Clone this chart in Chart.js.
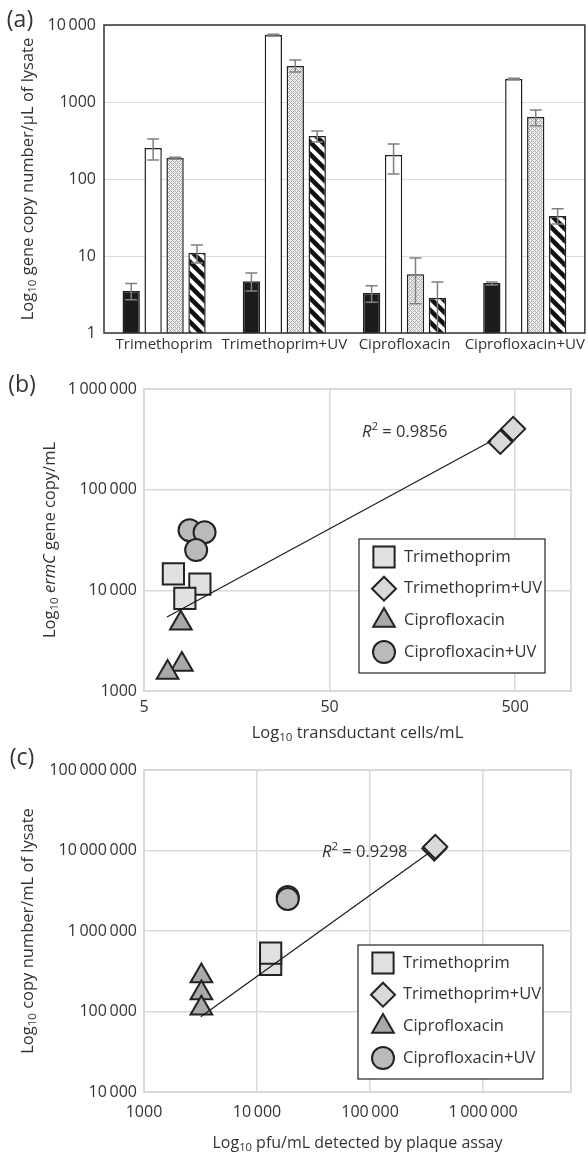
<!DOCTYPE html>
<html>
<head>
<meta charset="utf-8">
<script src="https://cdn.jsdelivr.net/npm/chart.js@4.4.1/dist/chart.umd.min.js"></script>
<style>
  body { margin: 0; background: #fff; }
  .panel { position: absolute; left: 0; width: 588px; }
</style>
</head>
<body>
<div class="panel" style="top:0;height:360px"><canvas id="chartA"></canvas></div>
<div class="panel" style="top:360px;height:385px"><canvas id="chartB"></canvas></div>
<div class="panel" style="top:745px;height:407px"><canvas id="chartC"></canvas></div>
<script>
// ---- panel (a) data ----
const categories = ['Trimethoprim', 'Trimethoprim+UV', 'Ciprofloxacin', 'Ciprofloxacin+UV'];
const seriesNames = ['solid', 'open', 'dotted', 'hatched'];
const blackVals = [3.5, 4.7, 3.3, 4.45];
const blackLo = [2.7, 3.5, 2.5, 4.2];
const blackHi = [4.4, 6.0, 4.1, 4.6];
const whiteVals = [252, 7400, 205, 1990];
const whiteLo = [177, 7200, 116, 1950];
const whiteHi = [330, 7600, 284, 2030];
const dotVals = [187, 2940, 5.8, 640];
const dotLo = [182, 2450, 2.4, 490];
const dotHi = [192, 3500, 9.4, 790];
const hatchVals = [11, 361, 2.85, 33];
const hatchLo = [8.1, 302, 1, 26];
const hatchHi = [13.9, 420, 4.6, 41];
const aYTicks = [1, 10, 100, 1000, 10000];

// ---- panel (b) data ----
const bTrimX = [7.2, 10.0, 8.3];
const bTrimY = [14600, 11500, 8300];
const bTrimUvX = [416, 488];
const bTrimUvY = [298000, 402000];
const bCiproX = [7.9, 8.0, 6.7];
const bCiproY = [4700, 1830, 1525];
const bCiproUvX = [8.8, 10.6, 9.55];
const bCiproUvY = [39500, 37800, 25100];
const bTrendX = [6.65, 372];
const bTrendY = [5440, 305000];
const bXTicks = [5, 50, 500];
const bYTicks = [1000, 10000, 100000, 1000000];

// ---- panel (c) data ----
const cTrimX = [13200, 13200];
const cTrimY = [384000, 530000];
const cTrimUvX = [370000, 378000];
const cTrimUvY = [10600000, 11100000];
const cCiproX = [3220, 3220, 3220];
const cCiproY = [276000, 170000, 110000];
const cCiproUvX = [18700, 18700];
const cCiproUvY = [2640000, 2500000];
const cTrendX = [3180, 331000];
const cTrendY = [86100, 9300000];
const cXTicks = [1000, 10000, 100000, 1000000];
const cYTicks = [10000, 100000, 1000000, 10000000, 100000000];

const markerStyles = ['rect', 'rectRot', 'triangle', 'circle'];
const markerRadii = [15, 12, 12.5, 11];
const markerFills = ['#e1e1e1', '#d9d9d9', '#a9a9a9', '#bababa'];

Chart.defaults.font.family = "'Open Sans', sans-serif";
Chart.defaults.font.size = 16;
Chart.defaults.color = '#333';
Chart.defaults.animation = false;
Chart.defaults.events = [];
Chart.defaults.plugins.legend.display = false;
Chart.defaults.plugins.tooltip.enabled = false;

function fmt(v) {
  if (v < 10000) return String(v);
  return String(v).replace(/\B(?=(\d{3})+(?!\d))/g, '\u2009');
}

function makeDots() {
  const c = document.createElement('canvas');
  c.width = 4; c.height = 4;
  const g = c.getContext('2d');
  g.fillStyle = '#efefef';
  g.fillRect(0, 0, 4, 4);
  g.fillStyle = '#ababab';
  for (let x = 0; x < 4; x++) {
    for (let y = 0; y < 4; y++) {
      if ((x + y) % 4 == 0 || (x - y + 4) % 4 == 0) g.fillRect(x, y, 1, 1);
    }
  }
  return g.createPattern(c, 'repeat');
}

function makeStripes() {
  const s = 12;
  const c = document.createElement('canvas');
  c.width = s; c.height = s;
  const g = c.getContext('2d');
  g.fillStyle = '#fff';
  g.fillRect(0, 0, s, s);
  g.strokeStyle = '#111';
  g.lineWidth = 4.5;
  for (let k = -1; k <= 1; k++) {
    g.beginPath();
    g.moveTo(k * s - 3, -3);
    g.lineTo(k * s + s + 3, s + 3);
    g.stroke();
  }
  return g.createPattern(c, 'repeat');
}

// text with subscript / superscript / italic runs
function fontFor(p, size) {
  const small = p[1] == 'sub' || p[1] == 'sup';
  return (p[1] == 'i' ? 'italic ' : '') + (small ? size * 0.7 : size) + "px 'Open Sans', sans-serif";
}
function drawRich(ctx, parts, x, y, size, align, rotate) {
  ctx.save();
  ctx.translate(x, y);
  if (rotate) ctx.rotate(-Math.PI / 2);
  const widths = parts.map(p => { ctx.font = fontFor(p, size); return ctx.measureText(p[0]).width; });
  const total = widths.reduce((a, b) => a + b, 0);
  let cx = align == 'center' ? -total / 2 : (align == 'right' ? -total : 0);
  ctx.textBaseline = 'middle';
  ctx.textAlign = 'left';
  ctx.fillStyle = '#333';
  parts.forEach((p, i) => {
    ctx.font = fontFor(p, size);
    const dy = p[1] == 'sub' ? size * 0.3 : (p[1] == 'sup' ? -size * 0.35 : 0);
    ctx.fillText(p[0], cx, dy);
    cx += widths[i];
  });
  ctx.restore();
}

function framePlugin(color, width) {
  return {
    id: 'frame',
    afterDraw(chart) {
      const a = chart.chartArea, ctx = chart.ctx;
      ctx.save();
      ctx.strokeStyle = color;
      ctx.lineWidth = width;
      ctx.strokeRect(a.left, a.top, a.right - a.left, a.bottom - a.top);
      ctx.restore();
    }
  };
}

function drawLegend(ctx, box) {
  ctx.save();
  ctx.fillStyle = '#fff';
  ctx.fillRect(box.x, box.y, box.w, box.h);
  ctx.strokeStyle = '#222';
  ctx.lineWidth = 1.2;
  ctx.strokeRect(box.x, box.y, box.w, box.h);
  categories.forEach((name, k) => {
    const cy = box.y + 18 + k * 31.7;
    ctx.fillStyle = markerFills[k];
    ctx.strokeStyle = '#222';
    ctx.lineWidth = 2;
    Chart.helpers.drawPoint(ctx, {pointStyle: markerStyles[k], radius: markerRadii[k], rotation: 0, borderWidth: 2}, box.x + 25, cy);
    ctx.fillStyle = '#333';
    ctx.font = "16.5px 'Open Sans', sans-serif";
    ctx.textBaseline = 'middle';
    ctx.textAlign = 'left';
    ctx.fillText(name, box.x + 45, cy);
  });
  ctx.restore();
}

// ---------- panel (a) ----------
const errLows = [blackLo, whiteLo, dotLo, hatchLo];
const errHighs = [blackHi, whiteHi, dotHi, hatchHi];

const errorBars = {
  id: 'errorBars',
  afterDatasetsDraw(chart) {
    const ctx = chart.ctx, ys = chart.scales.y;
    ctx.save();
    ctx.strokeStyle = '#808080';
    ctx.lineWidth = 1.5;
    errLows.forEach((lows, di) => {
      chart.getDatasetMeta(di).data.forEach((bar, i) => {
        const x = bar.x;
        const y1 = ys.getPixelForValue(lows[i]);
        const y2 = ys.getPixelForValue(errHighs[di][i]);
        ctx.beginPath();
        ctx.moveTo(x, y1); ctx.lineTo(x, y2);
        ctx.moveTo(x - 6, y1); ctx.lineTo(x + 6, y1);
        ctx.moveTo(x - 6, y2); ctx.lineTo(x + 6, y2);
        ctx.stroke();
      });
    });
    ctx.restore();
  }
};

const textA = {
  id: 'textA',
  afterDraw(chart) {
    const ctx = chart.ctx, a = chart.chartArea;
    drawRich(ctx, [['(a)', '']], 20, 20, 23, 'center');
    drawRich(ctx, [['Log', ''], ['10', 'sub'], [' gene copy number/\u00b5L of lysate', '']], 28, (a.top + a.bottom) / 2, 16.5, 'center', true);
  }
};

new Chart(document.getElementById('chartA'), {
  type: 'bar',
  data: {
    labels: categories,
    datasets: [
      {label: seriesNames[0], data: blackVals, backgroundColor: '#1c1c1c', borderColor: '#222', borderWidth: 1.5},
      {label: seriesNames[1], data: whiteVals, backgroundColor: '#fff', borderColor: '#222', borderWidth: 1.5},
      {label: seriesNames[2], data: dotVals, backgroundColor: makeDots(), borderColor: '#222', borderWidth: 1.5},
      {label: seriesNames[3], data: hatchVals, backgroundColor: makeStripes(), borderColor: '#222', borderWidth: 1.5}
    ]
  },
  options: {
    responsive: true,
    maintainAspectRatio: false,
    layout: {padding: {top: 25, right: 1, left: 0, bottom: 0}},
    datasets: {bar: {categoryPercentage: 0.73, barPercentage: 0.79}},
    scales: {
      x: {
        grid: {display: false, drawTicks: false},
        border: {display: false},
        ticks: {maxRotation: 0, minRotation: 0, autoSkip: false, padding: 3, font: {size: 15}},
        afterFit: s => { s.height = 27; }
      },
      y: {
        type: 'logarithmic', min: 1, max: 10000,
        afterBuildTicks: s => { s.ticks = aYTicks.map(v => ({value: v})); },
        ticks: {callback: v => fmt(v), padding: 8},
        grid: {color: '#dcdcdc', drawTicks: false},
        border: {display: false},
        afterFit: s => { s.width = 104; }
      }
    }
  },
  plugins: [errorBars, framePlugin('#333', 1.5), textA]
});

// ---------- scatter panels ----------
function scatterSet(label, xs, ys, k) {
  return {
    label: label,
    data: xs.map((x, i) => ({x: x, y: ys[i]})),
    pointStyle: markerStyles[k],
    pointRadius: markerRadii[k],
    backgroundColor: markerFills[k],
    borderColor: '#222',
    borderWidth: 2,
    order: 1
  };
}
function trendSet(xs, ys) {
  return {
    label: 'trend',
    data: xs.map((x, i) => ({x: x, y: ys[i]})),
    showLine: true,
    borderColor: '#1a1a1a',
    borderWidth: 1.2,
    pointRadius: 0,
    order: 0
  };
}
function logAxis(min, max, ticks, padding, size, horizontal) {
  return {
    type: 'logarithmic', min: min, max: max,
    afterBuildTicks: s => { s.ticks = ticks.map(v => ({value: v})); },
    ticks: {callback: v => fmt(v), padding: padding, maxRotation: 0, autoSkip: false},
    grid: {color: '#d9d9d9', lineWidth: 1.5, drawTicks: false},
    border: {display: false},
    afterFit: s => { if (horizontal) s.height = size; else s.width = size; }
  };
}

const textB = {
  id: 'textB',
  afterDraw(chart) {
    const ctx = chart.ctx, a = chart.chartArea;
    drawRich(ctx, [['(b)', '']], 22, 25, 23, 'center');
    drawRich(ctx, [['Log', ''], ['10', 'sub'], [' ', ''], ['ermC', 'i'], [' gene copy/mL', '']], 50, (a.top + a.bottom) / 2, 16.5, 'center', true);
    drawRich(ctx, [['Log', ''], ['10', 'sub'], [' transductant cells/mL', '']], (a.left + a.right) / 2, 373, 16.5, 'center');
    drawRich(ctx, [['R', 'i'], ['2', 'sup'], [' = 0.9856', '']], 362, 72, 16.5, 'left');
    drawLegend(ctx, {x: 359, y: 179, w: 186, h: 134});
  }
};

new Chart(document.getElementById('chartB'), {
  type: 'scatter',
  data: {
    datasets: [
      trendSet(bTrendX, bTrendY),
      scatterSet(categories[0], bTrimX, bTrimY, 0),
      scatterSet(categories[1], bTrimUvX, bTrimUvY, 1),
      scatterSet(categories[2], bCiproX, bCiproY, 2),
      scatterSet(categories[3], bCiproUvX, bCiproUvY, 3)
    ]
  },
  options: {
    responsive: true,
    maintainAspectRatio: false,
    layout: {padding: {top: 29, right: 13, left: 0, bottom: 0}},
    scales: {
      x: logAxis(5, 1000, bXTicks, 7, 54, true),
      y: logAxis(1000, 1000000, bYTicks, 7, 144, false)
    }
  },
  plugins: [framePlugin('#d9d9d9', 2), textB]
});

const textC = {
  id: 'textC',
  afterDraw(chart) {
    const ctx = chart.ctx, a = chart.chartArea;
    drawRich(ctx, [['(c)', '']], 22, 13, 23, 'center');
    drawRich(ctx, [['Log', ''], ['10', 'sub'], [' copy number/mL of lysate', '']], 28, (a.top + a.bottom) / 2, 16.5, 'center', true);
    drawRich(ctx, [['Log', ''], ['10', 'sub'], [' pfu/mL detected by plaque assay', '']], (a.left + a.right) / 2, 398, 16, 'center');
    drawRich(ctx, [['R', 'i'], ['2', 'sup'], [' = 0.9298', '']], 322, 107, 16.5, 'left');
    drawLegend(ctx, {x: 358, y: 200, w: 185, h: 134});
  }
};

new Chart(document.getElementById('chartC'), {
  type: 'scatter',
  data: {
    datasets: [
      trendSet(cTrendX, cTrendY),
      scatterSet(categories[0], cTrimX, cTrimY, 0),
      scatterSet(categories[1], cTrimUvX, cTrimUvY, 1),
      scatterSet(categories[2], cCiproX, cCiproY, 2),
      scatterSet(categories[3], cCiproUvX, cCiproUvY, 3)
    ]
  },
  options: {
    responsive: true,
    maintainAspectRatio: false,
    layout: {padding: {top: 25, right: 11, left: 0, bottom: 0}},
    scales: {
      x: logAxis(1000, 6000000, cXTicks, 11, 60, true),
      y: logAxis(10000, 100000000, cYTicks, 7, 144, false)
    }
  },
  plugins: [framePlugin('#d9d9d9', 2), textC]
});
</script>
</body>
</html>
